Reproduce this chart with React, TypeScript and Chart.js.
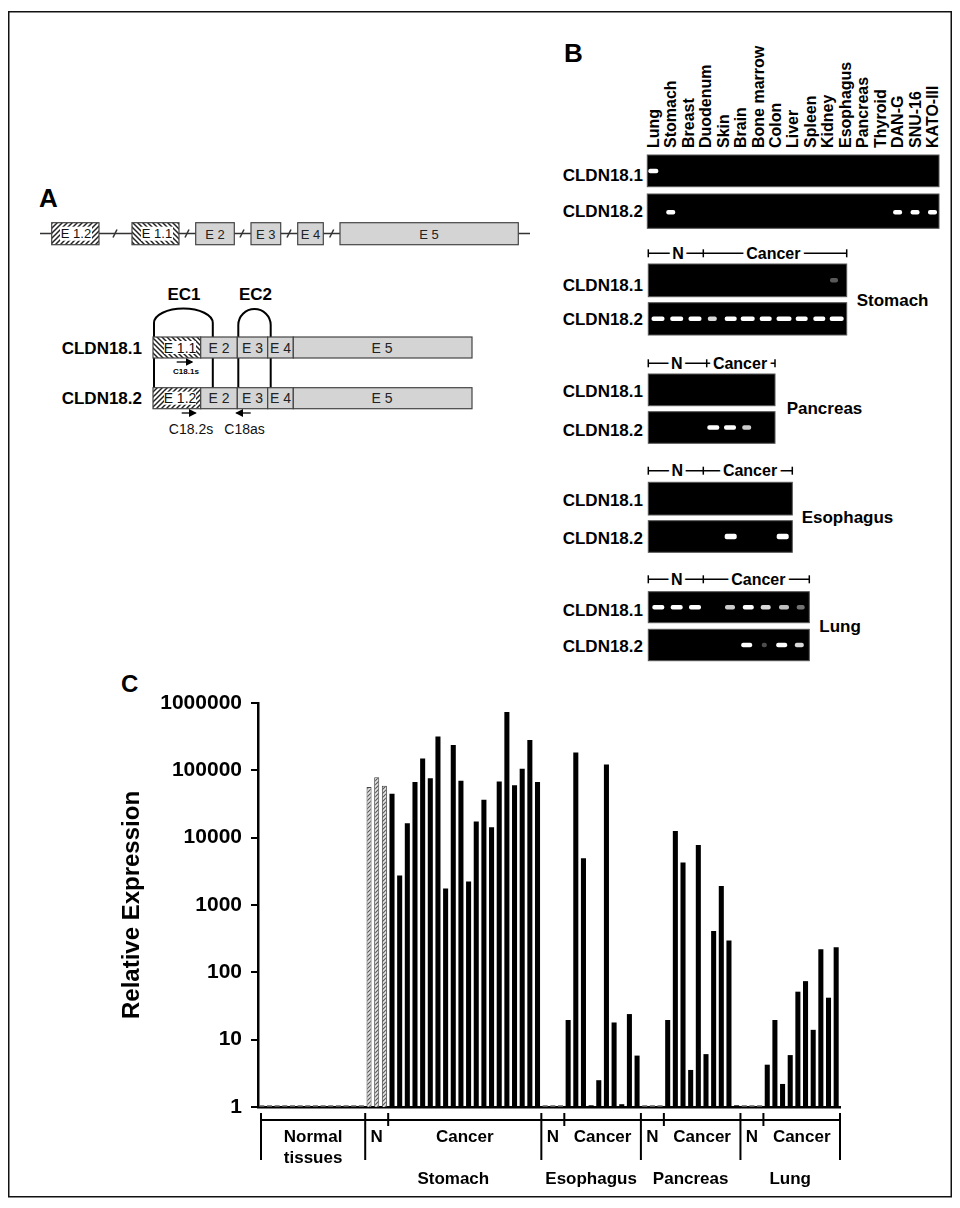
import React, { useEffect, useRef } from 'react';
import { Chart, registerables } from 'chart.js';
Chart.register(...registerables);

const FONT = '"Liberation Sans", Arial, Helvetica, sans-serif';

// ---------- Panel C data (relative expression, log scale) ----------
const normalTissues = [1.06, 1.06, 1.06, 1.06, 1.06, 1.06, 1.06, 1.06, 1.06, 1.06, 1.06, 1.06, 1.06, 1.06];
const stomachN = [56500, 79000, 59000];
const stomachCancer = [45000, 2750, 16400, 67000, 150000, 76600, 318000, 1760, 237000, 70000, 2240, 17400, 36600, 14300, 68000, 733000, 60300, 106000, 281000, 67000];
const esophagusN = [1.06, 1.06, 1.06];
const esophagusCancer = [19.6, 184000, 4960, 1.06, 2.5, 122000, 18, 1.1, 24, 5.8];
const pancreasN = [1.06, 1.06, 1.06];
const pancreasCancer = [19.6, 12600, 4270, 3.55, 7800, 6.1, 412, 1920, 296, 1.06];
const lungN = [1.06, 1.06, 1.06];
const lungCancer = [4.25, 19.6, 2.2, 5.9, 51.6, 74, 14, 220, 42, 236];
const yTicks = [1, 10, 100, 1000, 10000, 100000, 1000000];
const groupNames = ['Stomach', 'Esophagus', 'Pancreas', 'Lung'];
const normalLabel = ['Normal', 'tissues'];
const nLabel = 'N';
const cancerLabel = 'Cancer';

// ---------- Panel B (RT-PCR gels) ----------
const tissueLanes = ['Lung', 'Stomach', 'Breast', 'Duodenum', 'Skin', 'Brain', 'Bone marrow', 'Colon', 'Liver', 'Spleen', 'Kidney', 'Esophagus', 'Pancreas', 'Thyroid', 'DAN-G', 'SNU-16', 'KATO-III'];
const panelBands18_1 = [0];
const panelBands18_2 = [1, 14, 15, 16];

type Band = [number, number, number]; // x, width, opacity
const gelSets = [
  {
    name: 'Stomach', x1: 846.7, hy: 253.3, midX: 703.3, nX: 678, cX: 773.3,
    g1: [264, 296.7], g2: [302.7, 335], l1: 285, l2: 319, nameX: 856.7, nameY: 300,
    b1: [[834, 8, 0.35]] as Band[],
    b2: [[658, 13, 1], [676.7, 13, 1], [695, 13, 1], [712.3, 9, 0.85], [730.7, 12, 1], [747.7, 14, 1], [765.7, 12, 1], [784, 15, 1], [801.7, 12, 1], [819.3, 12, 1], [836.7, 14, 1]] as Band[],
  },
  {
    name: 'Pancreas', x1: 775, hy: 363.3, midX: 706.7, nX: 676.7, cX: 740,
    g1: [374, 405.7], g2: [411.7, 443.3], l1: 391.7, l2: 430, nameX: 786.7, nameY: 408.3,
    b1: [] as Band[],
    b2: [[713.3, 12, 1], [730, 12, 1], [746.7, 9, 0.8]] as Band[],
  },
  {
    name: 'Esophagus', x1: 792.3, hy: 470.7, midX: 703.3, nX: 677.3, cX: 750,
    g1: [482.3, 515], g2: [520.7, 552.3], l1: 500.7, l2: 538.3, nameX: 801.7, nameY: 517.3,
    b1: [] as Band[],
    b2: [[730.7, 12, 1], [782.7, 12, 1]] as Band[],
  },
  {
    name: 'Lung', x1: 809.3, hy: 579.3, midX: 703.3, nX: 676.7, cX: 758.3,
    g1: [591.7, 622.7], g2: [629.3, 660.7], l1: 610, l2: 646.7, nameX: 819.3, nameY: 626.7,
    b1: [[658.3, 12, 1], [676.7, 12, 1], [695, 12, 1], [730, 10, 0.8], [748.3, 11, 1], [765.7, 10, 0.85], [784, 10, 0.75], [800.7, 8, 0.45]] as Band[],
    b2: [[746.7, 11, 1], [764.3, 5, 0.3], [781.7, 11, 1], [799.3, 9, 0.85]] as Band[],
  },
];

function makeHatch(ctx: CanvasRenderingContext2D) {
  const c = document.createElement('canvas');
  c.width = 4;
  c.height = 4;
  const g = c.getContext('2d')!;
  g.fillStyle = '#e4e4e4';
  g.fillRect(0, 0, 4, 4);
  g.strokeStyle = '#555';
  g.lineWidth = 1.1;
  g.beginPath();
  g.moveTo(0, 4); g.lineTo(4, 0);
  g.moveTo(-1, 1); g.lineTo(1, -1);
  g.moveTo(3, 5); g.lineTo(5, 3);
  g.stroke();
  return ctx.createPattern(c, 'repeat');
}

function ChartC() {
  const ref = useRef<HTMLCanvasElement>(null);
  useEffect(() => {
    const canvas = ref.current!;
    const ctx = canvas.getContext('2d')!;
    const hatch = makeHatch(ctx);
    const parts: { vals: number[]; kind: string }[] = [
      { vals: normalTissues, kind: 'flat' },
      { vals: stomachN, kind: 'hatch' },
      { vals: stomachCancer, kind: 'cancer' },
      { vals: esophagusN, kind: 'flat' },
      { vals: esophagusCancer, kind: 'cancer' },
      { vals: pancreasN, kind: 'flat' },
      { vals: pancreasCancer, kind: 'cancer' },
      { vals: lungN, kind: 'flat' },
      { vals: lungCancer, kind: 'cancer' },
    ];
    const values: number[] = [];
    const bg: any[] = [];
    const bc: string[] = [];
    const bw: number[] = [];
    parts.forEach((p) => {
      p.vals.forEach((v) => {
        values.push(v);
        if (p.kind === 'hatch') { bg.push(hatch); bc.push('#444'); bw.push(1); }
        else if (p.kind === 'flat') { bg.push('#555'); bc.push('#555'); bw.push(0); }
        else { bg.push('#000'); bc.push('#000'); bw.push(0); }
      });
    });
    const labels = values.map((_, i) => String(i + 1));

    const nNorm = normalTissues.length;
    const gStarts: number[] = [];
    const gSplits: number[] = [];
    let idx = nNorm;
    const gs = [
      [stomachN, stomachCancer],
      [esophagusN, esophagusCancer],
      [pancreasN, pancreasCancer],
      [lungN, lungCancer],
    ];
    gs.forEach(([n, c]) => {
      gStarts.push(idx);
      gSplits.push(idx + n.length);
      idx += n.length + c.length;
    });
    const total = idx;

    const bracketPlugin = {
      id: 'brackets',
      afterDraw(chart: any) {
        const c = chart.ctx as CanvasRenderingContext2D;
        const x = chart.scales.x;
        const step = x.getPixelForValue(1) - x.getPixelForValue(0);
        const edge = (i: number) => x.getPixelForValue(0) + (i - 0.5) * step;
        const yLine = 1120 - 680;
        c.save();
        c.strokeStyle = '#000';
        c.lineWidth = 2;
        c.beginPath();
        c.moveTo(edge(0) + 3, yLine);
        c.lineTo(edge(total), yLine);
        const longs = [0, ...gStarts, total];
        longs.forEach((i, k) => {
          const px = k === 0 ? edge(i) + 3 : edge(i);
          c.moveTo(px, yLine - 7);
          c.lineTo(px, yLine + 40);
        });
        gSplits.forEach((i) => {
          c.moveTo(edge(i), yLine - 7);
          c.lineTo(edge(i), yLine + 6);
        });
        c.stroke();
        c.fillStyle = '#000';
        c.font = `bold 17px ${FONT}`;
        c.textAlign = 'center';
        c.textBaseline = 'middle';
        const r1 = yLine + 17;
        const r2 = yLine + 38;
        const r3 = yLine + 59;
        const nx = (edge(0) + 3 + edge(nNorm)) / 2;
        c.fillText(normalLabel[0], nx, r1);
        c.fillText(normalLabel[1], nx, r2);
        gStarts.forEach((s, k) => {
          const sp = gSplits[k];
          const e = k < gStarts.length - 1 ? gStarts[k + 1] : total;
          c.fillText(nLabel, (edge(s) + edge(sp)) / 2, r1);
          c.fillText(cancerLabel, (edge(sp) + edge(e)) / 2, r1);
          c.fillText(groupNames[k], (edge(s) + edge(e)) / 2, r3);
        });
        c.restore();
      },
    };

    const chart = new Chart(canvas, {
      type: 'bar',
      data: {
        labels,
        datasets: [
          {
            data: values,
            backgroundColor: bg,
            borderColor: bc,
            borderWidth: bw,
            barPercentage: 0.66,
            categoryPercentage: 1,
          },
        ],
      },
      options: {
        responsive: false,
        animation: false,
        layout: { padding: { left: 98, right: 20, top: 23, bottom: 0 } },
        plugins: { legend: { display: false }, tooltip: { enabled: false } },
        scales: {
          x: {
            type: 'category',
            offset: true,
            grid: { display: false },
            ticks: { display: false },
            border: { display: true, color: '#000', width: 2.5 },
            afterFit: (s: any) => { s.height = 93; },
          },
          y: {
            type: 'logarithmic',
            min: 1,
            max: 1000000,
            afterBuildTicks: (s: any) => { s.ticks = yTicks.map((v) => ({ value: v })); },
            ticks: {
              autoSkip: false,
              padding: 9,
              color: '#000',
              font: { family: FONT, size: 21, weight: 'bold' },
              callback: (v: any) => String(v),
            },
            grid: { display: true, drawOnChartArea: false, drawTicks: true, tickLength: 7, color: '#000', lineWidth: 2 },
            border: { display: true, color: '#000', width: 2.5 },
            title: {
              display: true,
              text: 'Relative Expression',
              color: '#000',
              font: { family: FONT, size: 24, weight: 'bold' },
              padding: { top: 0, bottom: 0 },
            },
            afterFit: (s: any) => { s.width = 140; },
          },
        },
      } as any,
      plugins: [bracketPlugin],
    });
    return () => chart.destroy();
  }, []);
  return (
    <canvas
      ref={ref}
      width={840}
      height={520}
      style={{ position: 'absolute', left: 20, top: 680, width: 840, height: 520, zIndex: 2 }}
    />
  );
}

function Seg({ x, y, w, h, fill }: { x: number; y: number; w: number; h: number; fill: string }) {
  return <rect x={x} y={y} width={w} height={h} fill={fill} stroke="#444" strokeWidth={1.2} />;
}

function ExonText({ x, y, t, size = 13 }: { x: number; y: number; t: string; size?: number }) {
  return (
    <text x={x} y={y} fontSize={size} fill="#222" textAnchor="middle" dominantBaseline="central" fontFamily={FONT}>{t}</text>
  );
}

// Hatched exon: hatch strips on the edges, white field behind the name
function HatchExon({ x, y, w, h, patt, t, tx, size = 13 }: { x: number; y: number; w: number; h: number; patt: string; t: string; tx: number; size?: number }) {
  return (
    <g>
      <rect x={x} y={y} width={w} height={h} fill={`url(#${patt})`} />
      <rect x={tx - 16} y={y + 4} width={32} height={h - 8} fill="#fff" />
      <rect x={x} y={y} width={w} height={h} fill="none" stroke="#444" strokeWidth={1.2} />
      <text x={tx} y={y + h / 2} fontSize={size} fill="#111" textAnchor="middle" dominantBaseline="central" fontFamily={FONT}>{t}</text>
    </g>
  );
}

function Transcript({ y, iso, patt }: { y: number; iso: string; patt: string }) {
  const h = 21;
  return (
    <g>
      <HatchExon x={153} y={y} w={47.7} h={h} patt={patt} t={iso} tx={180} size={14} />
      <Seg x={200.7} y={y} w={36.6} h={h} fill="#d4d4d4" />
      <Seg x={237.3} y={y} w={30.4} h={h} fill="#d4d4d4" />
      <Seg x={267.7} y={y} w={25.6} h={h} fill="#d4d4d4" />
      <Seg x={293.3} y={y} w={178.7} h={h} fill="#d4d4d4" />
      <ExonText x={219} y={y + h / 2} t="E 2" size={14} />
      <ExonText x={252.5} y={y + h / 2} t="E 3" size={14} />
      <ExonText x={280.5} y={y + h / 2} t="E 4" size={14} />
      <ExonText x={382} y={y + h / 2} t="E 5" size={14} />
    </g>
  );
}

function Figure() {
  const laneX = (i: number) => 653.3 + i * 17.45;
  const gelLabel = (y: number, t: string) => (
    <text x={643} y={y} fontSize={17} fontWeight="bold" textAnchor="end" dominantBaseline="central" fontFamily={FONT}>{t}</text>
  );
  const band = (x: number, y: number, w: number, op: number, key: string, h = 4.5) => (
    <rect key={key} x={x - w / 2} y={y - h / 2} width={w} height={h} rx={2} fill="#fff" opacity={op} filter="url(#bl)" />
  );
  const breaks = [115, 187, 242, 289, 331.7];
  return (
    <svg width={960} height={1208} style={{ position: 'absolute', left: 0, top: 0, zIndex: 1 }} fontFamily={FONT}>
      <defs>
        <pattern id="hf" patternUnits="userSpaceOnUse" width={5} height={5}>
          <rect width={5} height={5} fill="#fff" />
          <path d="M0,5 L5,0 M-1,1 L1,-1 M4,6 L6,4" stroke="#222" strokeWidth={1.5} />
        </pattern>
        <pattern id="hb" patternUnits="userSpaceOnUse" width={5} height={5}>
          <rect width={5} height={5} fill="#fff" />
          <path d="M0,0 L5,5 M-1,4 L1,6 M4,-1 L6,1" stroke="#222" strokeWidth={1.5} />
        </pattern>
        <filter id="bl"><feGaussianBlur stdDeviation={0.6} /></filter>
        <marker id="ar" markerWidth={6} markerHeight={6} refX={5} refY={3} orient="auto">
          <path d="M0,0 L6,3 L0,6 z" fill="#000" />
        </marker>
      </defs>
      <rect x={8.75} y={11.75} width={942.5} height={1185} fill="none" stroke="#111" strokeWidth={1.5} />

      {/* ---------- Panel A ---------- */}
      <text x={39} y={207} fontSize={26} fontWeight="bold">A</text>
      <line x1={40} y1={233.5} x2={530} y2={233.5} stroke="#333" strokeWidth={1.5} />
      <HatchExon x={51.7} y={222.7} w={47.3} h={22} patt="hf" t="E 1.2" tx={76} />
      <HatchExon x={132} y={222.7} w={47} h={22} patt="hb" t="E 1.1" tx={157} />
      <Seg x={195.7} y={222.7} w={38.6} h={22} fill="#d4d4d4" />
      <Seg x={251} y={222.7} w={29.7} h={22} fill="#d4d4d4" />
      <Seg x={297.7} y={222.7} w={25.6} h={22} fill="#d4d4d4" />
      <Seg x={340} y={222.7} w={178.3} h={22} fill="#d4d4d4" />
      {breaks.map((b) => (
        <line key={b} x1={b - 2} y1={237.5} x2={b + 2} y2={229.5} stroke="#333" strokeWidth={1.5} />
      ))}
      <ExonText x={215} y={234} t="E 2" />
      <ExonText x={265.8} y={234} t="E 3" />
      <ExonText x={310.5} y={234} t="E 4" />
      <ExonText x={429} y={234} t="E 5" />

      <text x={184} y={294} fontSize={17} fontWeight="bold" textAnchor="middle" dominantBaseline="central">EC1</text>
      <text x={255.5} y={294} fontSize={17} fontWeight="bold" textAnchor="middle" dominantBaseline="central">EC2</text>
      <path d="M154,338 L154,323 A29.4,14.5 0 0 1 212.8,323 L212.8,338" fill="none" stroke="#000" strokeWidth={2} />
      <path d="M238.3,338 L238.3,325 A16.2,16 0 0 1 270.7,325 L270.7,338" fill="none" stroke="#000" strokeWidth={2} />
      {[154, 212.8, 238.3, 270.7].map((vx) => (
        <line key={vx} x1={vx} y1={358} x2={vx} y2={388} stroke="#000" strokeWidth={2} />
      ))}
      <Transcript y={337} iso="E 1.1" patt="hb" />
      <Transcript y={387.7} iso="E 1.2" patt="hf" />
      <text x={142} y={348} fontSize={17} fontWeight="bold" textAnchor="end" dominantBaseline="central">CLDN18.1</text>
      <text x={142} y={398.5} fontSize={17} fontWeight="bold" textAnchor="end" dominantBaseline="central">CLDN18.2</text>
      <line x1={176.7} y1={362} x2={192} y2={362} stroke="#000" strokeWidth={1.3} markerEnd="url(#ar)" />
      <text x={186} y={371.5} fontSize={8} fontWeight="bold" textAnchor="middle" dominantBaseline="central">C18.1s</text>
      <line x1={181.7} y1={413} x2={195.5} y2={413} stroke="#000" strokeWidth={1.3} markerEnd="url(#ar)" />
      <line x1={250.7} y1={413} x2={236.5} y2={413} stroke="#000" strokeWidth={1.3} markerEnd="url(#ar)" />
      <text x={191} y={428.5} fontSize={14} textAnchor="middle" dominantBaseline="central" fill="#111">C18.2s</text>
      <text x={244.5} y={428.5} fontSize={14} textAnchor="middle" dominantBaseline="central" fill="#111">C18as</text>

      {/* ---------- Panel B ---------- */}
      <text x={564} y={62} fontSize={26} fontWeight="bold">B</text>
      {tissueLanes.map((t, i) => (
        <text key={t} x={laneX(i)} y={148} fontSize={16} fontWeight="bold" dominantBaseline="central"
          transform={`rotate(-90 ${laneX(i)} 148)`}>{t}</text>
      ))}
      <rect x={647.3} y={155} width={291.7} height={31.7} fill="#000" stroke="#555" strokeWidth={1} />
      <rect x={647.3} y={194} width={291.7} height={34.3} fill="#000" stroke="#555" strokeWidth={1} />
      {gelLabel(175, 'CLDN18.1')}
      {gelLabel(211.5, 'CLDN18.2')}
      {panelBands18_1.map((i) => band(laneX(i), 171, 10, 1, 'a' + i))}
      {panelBands18_2.map((i) => band(laneX(i), 212.3, 9, 1, 'b' + i))}

      {gelSets.map((g) => {
        const x0 = 648.3;
        return (
          <g key={g.name}>
            <line x1={x0} y1={g.hy} x2={g.x1} y2={g.hy} stroke="#000" strokeWidth={1.5} />
            <line x1={x0} y1={g.hy - 4} x2={x0} y2={g.hy + 4} stroke="#000" strokeWidth={1.5} />
            <line x1={g.midX} y1={g.hy - 4} x2={g.midX} y2={g.hy + 4} stroke="#000" strokeWidth={1.5} />
            <line x1={g.x1} y1={g.hy - 4} x2={g.x1} y2={g.hy + 4} stroke="#000" strokeWidth={1.5} />
            <text x={g.nX} y={g.hy} fontSize={16} fontWeight="bold" textAnchor="middle" dominantBaseline="central"
              stroke="#fff" strokeWidth={7} paintOrder="stroke">N</text>
            <text x={g.cX} y={g.hy} fontSize={16} fontWeight="bold" textAnchor="middle" dominantBaseline="central"
              stroke="#fff" strokeWidth={7} paintOrder="stroke">Cancer</text>
            <rect x={x0} y={g.g1[0]} width={g.x1 - x0} height={g.g1[1] - g.g1[0]} fill="#000" stroke="#555" strokeWidth={1} />
            <rect x={x0} y={g.g2[0]} width={g.x1 - x0} height={g.g2[1] - g.g2[0]} fill="#000" stroke="#555" strokeWidth={1} />
            {gelLabel(g.l1, 'CLDN18.1')}
            {gelLabel(g.l2, 'CLDN18.2')}
            {g.b1.map((b, i) => band(b[0], (g.g1[0] + g.g1[1]) / 2, b[1], b[2], 'c' + i))}
            {g.b2.map((b, i) => band(b[0], (g.g2[0] + g.g2[1]) / 2, b[1], b[2], 'd' + i, g.name === 'Esophagus' ? 5.5 : 4.5))}
            <text x={g.nameX} y={g.nameY} fontSize={17} fontWeight="bold" dominantBaseline="central">{g.name}</text>
          </g>
        );
      })}

      {/* ---------- Panel C label ---------- */}
      <text x={121} y={692} fontSize={24} fontWeight="bold">C</text>
    </svg>
  );
}

export default function App() {
  return (
    <div style={{ position: 'absolute', left: 0, top: 0, width: 960, height: 1208, background: '#fff' }}>
      <Figure />
      <ChartC />
    </div>
  );
}
